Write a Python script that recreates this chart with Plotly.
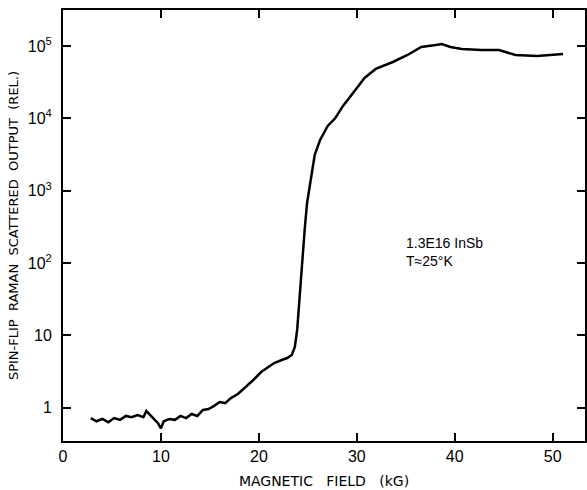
import plotly.graph_objects as go

# Magnetic field (kG) and spin-flip Raman scattered output (relative)
field_kG = [2.84, 3.43, 4.03, 4.63, 5.22, 5.82, 6.42, 7.01, 7.61, 8.21, 8.51, 9.10, 9.70, 10.0,
            10.29, 10.86, 11.43, 12.0, 12.57, 13.14, 13.71, 14.29, 14.86, 15.43, 16.0, 16.57,
            17.14, 17.86, 18.57, 19.43, 20.23, 20.78, 21.56, 22.34, 22.89, 23.36, 23.67, 23.91,
            24.06, 24.14, 24.38, 24.53, 24.69, 24.92, 25.31, 25.70, 26.25, 27.03, 27.81, 28.59,
            29.38, 30.0, 30.79, 31.93, 33.68, 35.18, 36.58, 38.07, 38.68, 39.56, 40.71, 42.74,
            44.51, 46.19, 48.41, 51.06]
output_rel = [0.72, 0.65, 0.70, 0.63, 0.72, 0.68, 0.77, 0.74, 0.79, 0.74, 0.90, 0.74, 0.61, 0.52,
              0.65, 0.70, 0.68, 0.77, 0.72, 0.82, 0.77, 0.93, 0.96, 1.06, 1.20, 1.16,
              1.36, 1.55, 1.87, 2.42, 3.12, 3.54, 4.15, 4.57, 4.87, 5.36, 6.92, 11.9,
              22.5, 30.9, 80, 178, 305, 678, 1550, 3130, 5040, 7870, 10150, 14900,
              20500, 26400, 36300, 48400, 60400, 75500, 97500, 104000, 107000, 97500, 91400, 88500,
              88500, 75500, 73100, 78000]

x_ticks = [0, 10, 20, 30, 40, 50]
y_ticks = [1, 10, 100, 1000, 10000, 100000]
y_tick_text = ["1", "10", "10<sup>2</sup>", "10<sup>3</sup>", "10<sup>4</sup>", "10<sup>5</sup>"]

FONT = "Liberation Sans, Arial, sans-serif"
TITLE_FONT = "DejaVu Sans, Liberation Sans, sans-serif"

fig = go.Figure()
fig.add_trace(go.Scatter(
    x=field_kG, y=output_rel, mode="lines",
    line=dict(color="black", width=2.5),
    showlegend=False, hoverinfo="skip",
))

fig.update_layout(
    width=587, height=490,
    margin=dict(l=63, r=0, t=10, b=49),
    paper_bgcolor="white", plot_bgcolor="white",
    font=dict(family=FONT, size=14, color="black"),
    annotations=[
        dict(text="1.3E16 InSb<br>T\u224825\u00b0K", xref="paper", yref="paper",
             x=(405 - 63) / 524, y=(441 - 233) / 431, xanchor="left", yanchor="top",
             align="left", showarrow=False,
             font=dict(family=FONT, size=14, color="black")),
    ],
)

fig.update_xaxes(
    range=[0, 53.3], tickvals=x_ticks, ticks="inside", ticklen=8, tickwidth=1.5,
    tickcolor="black", showline=True, linecolor="black", linewidth=2, mirror="ticks",
    showgrid=False, zeroline=False,
    tickfont=dict(family=FONT, size=16, color="black"),
    title=dict(text="MAGNETIC   FIELD   (kG)", standoff=12,
               font=dict(family=TITLE_FONT, size=14, color="black")),
)
fig.update_yaxes(
    type="log", range=[-0.46, 5.50], tickvals=y_ticks, ticktext=y_tick_text,
    ticks="inside", ticklen=8, tickwidth=1.5, tickcolor="black",
    showline=True, linecolor="black", linewidth=2, mirror="ticks",
    showgrid=False, zeroline=False, ticklabelstandoff=6,
    tickfont=dict(family=FONT, size=16, color="black"),
    title=dict(text="SPIN-FLIP  RAMAN  SCATTERED  OUTPUT  (REL.)", standoff=6,
               font=dict(family=TITLE_FONT, size=13, color="black")),
)

fig.write_html("out.html")
